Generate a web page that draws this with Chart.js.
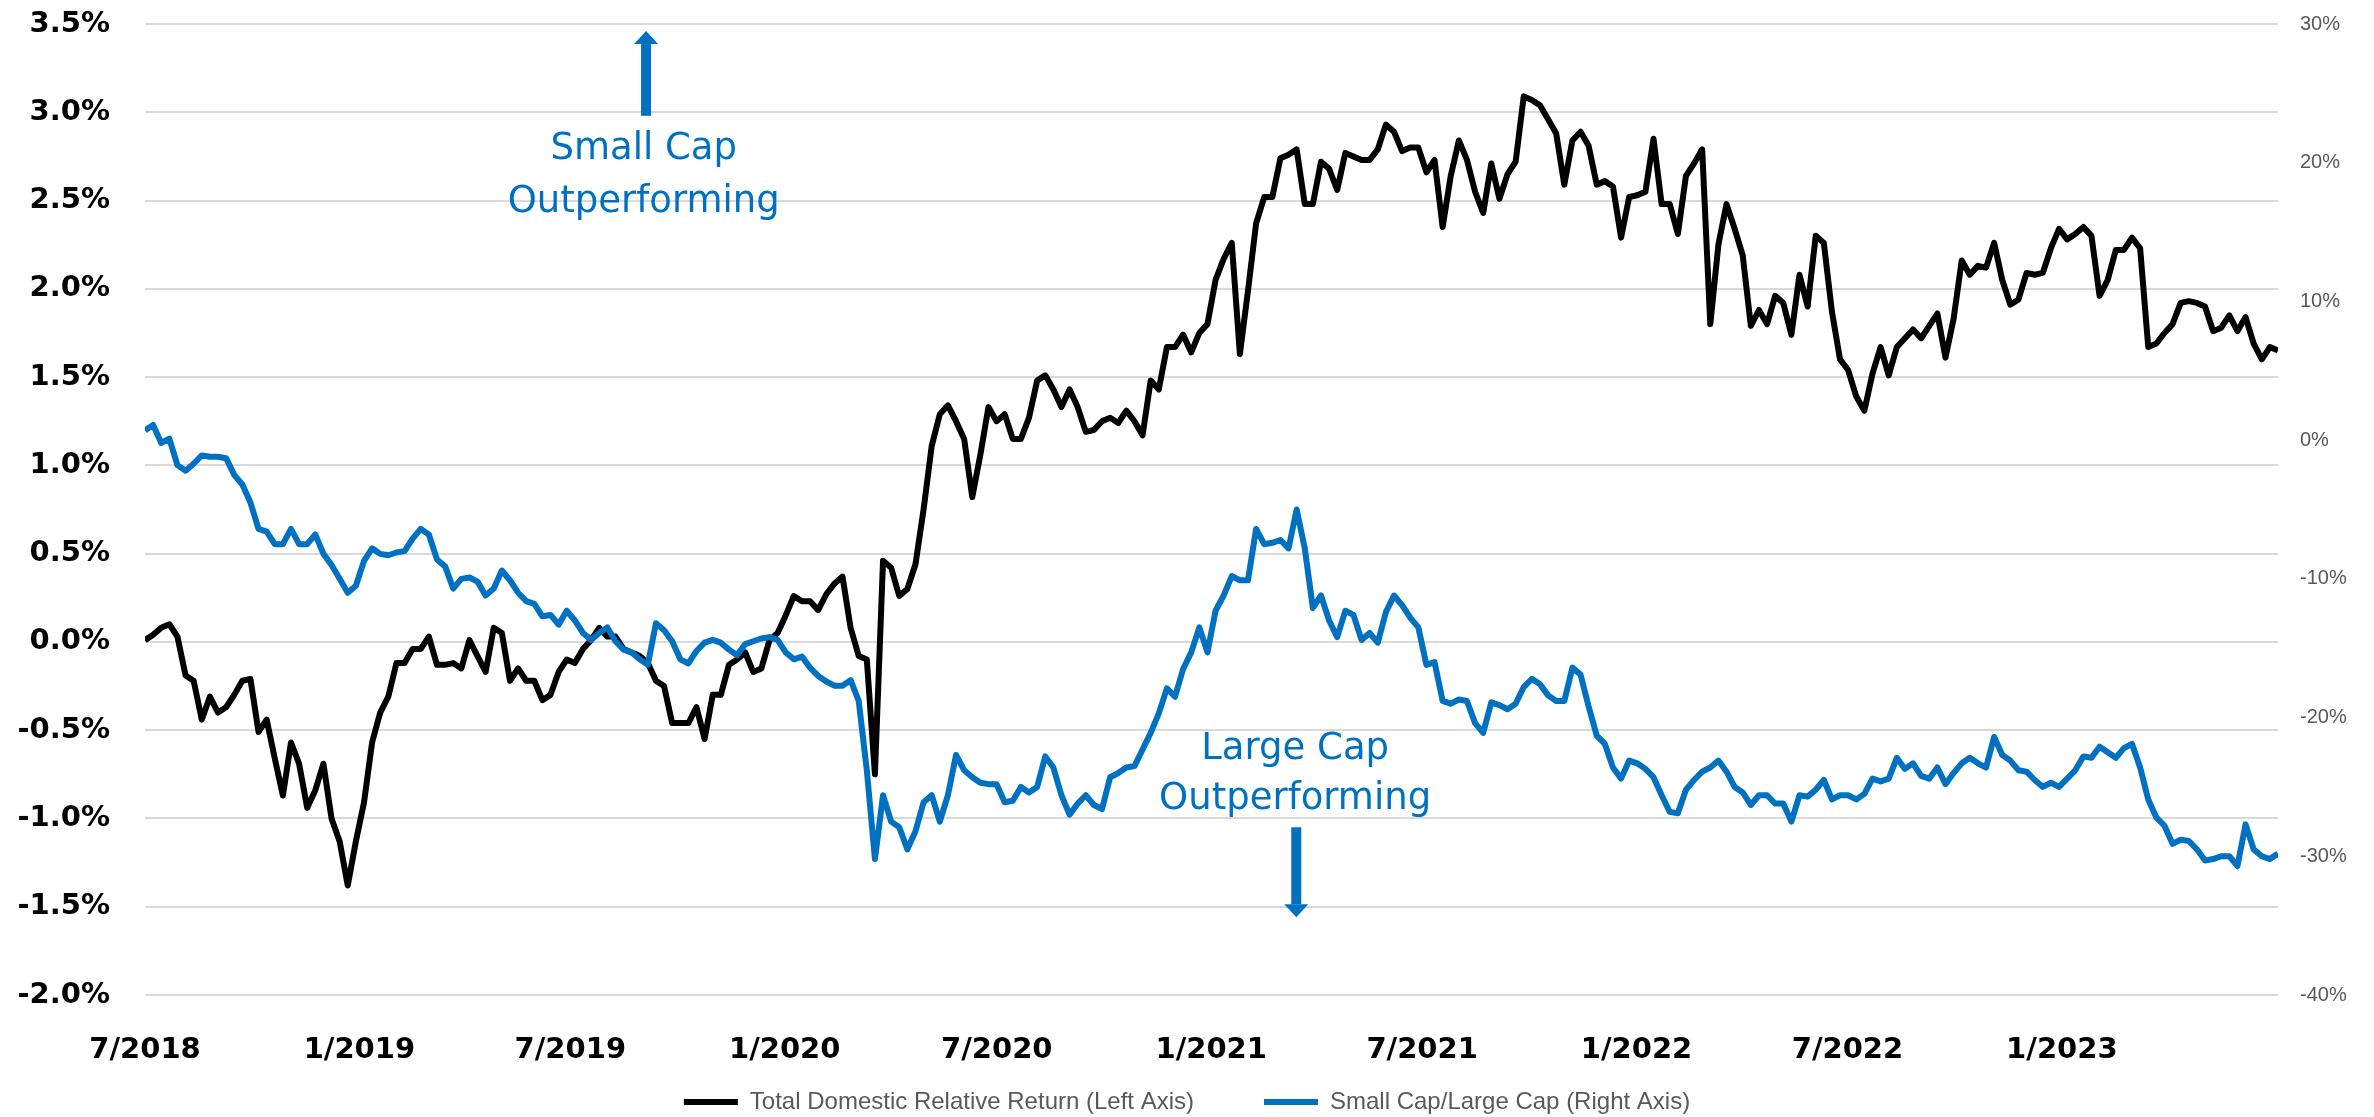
<!DOCTYPE html>
<html>
<head>
<meta charset="utf-8">
<script src="https://cdn.jsdelivr.net/npm/chart.js@4.4.1/dist/chart.umd.min.js"></script>
<style>
  html, body { margin: 0; padding: 0; background: #ffffff; }
</style>
</head>
<body>
<canvas id="chart" width="2374" height="1117"></canvas>
<script>
// weekly readings of both series, first point = 1 Jul 2018
const START_DATE = Date.UTC(2018, 6, 1);
const SAMPLE_DAYS = 6.96;

const seriesNames = ['Total Domestic Relative Return (Left Axis)', 'Small Cap/Large Cap (Right Axis)'];
const tickLabels = ['7/2018', '1/2019', '7/2019', '1/2020', '7/2020', '1/2021', '7/2021', '1/2022', '7/2022', '1/2023'];

// left axis, %
const domesticReturn = [
  0.01, 0.04, 0.08, 0.10, 0.03, -0.19, -0.22, -0.44, -0.31, -0.40, -0.37, -0.30, -0.22, -0.21, -0.51, -0.44, -0.66, -0.87,
  -0.57, -0.69, -0.94, -0.84, -0.69, -1.00, -1.13, -1.38, -1.13, -0.91, -0.57, -0.40, -0.31, -0.12, -0.12, -0.04, -0.04,
  0.03, -0.13, -0.13, -0.12, -0.15, 0.01, -0.08, -0.17, 0.08, 0.05, -0.22, -0.15, -0.22, -0.22, -0.33, -0.30, -0.17, -0.10,
  -0.12, -0.04, 0.01, 0.08, 0.03, 0.03, -0.04, -0.06, -0.08, -0.12, -0.22, -0.25, -0.46, -0.46, -0.46, -0.37, -0.55, -0.30,
  -0.30, -0.13, -0.10, -0.06, -0.17, -0.15, 0.01, 0.05, 0.15, 0.26, 0.23, 0.23, 0.18, 0.27, 0.33, 0.37, 0.08, -0.08, -0.10,
  -0.75, 0.46, 0.42, 0.26, 0.30, 0.44, 0.75, 1.11, 1.29, 1.34, 1.25, 1.15, 0.82, 1.06, 1.33, 1.25,
  1.29, 1.15, 1.15, 1.27, 1.48, 1.51, 1.43, 1.33, 1.43, 1.33, 1.19, 1.20, 1.25, 1.27, 1.24, 1.31, 1.25, 1.17, 1.48, 1.43,
  1.67, 1.67, 1.74, 1.64, 1.75, 1.80, 2.05, 2.17, 2.26, 1.63, 1.99, 2.37, 2.52, 2.52, 2.74, 2.76, 2.79, 2.48, 2.48, 2.72,
  2.68, 2.56, 2.77, 2.75, 2.73, 2.73, 2.79, 2.93, 2.89, 2.78, 2.80, 2.80, 2.66,
  2.73, 2.35, 2.64, 2.84, 2.73, 2.55, 2.43, 2.71, 2.51, 2.65, 2.72, 3.09, 3.07, 3.04, 2.96, 2.88, 2.59, 2.84, 2.89, 2.81,
  2.59, 2.61, 2.58, 2.29, 2.52, 2.53, 2.55, 2.85, 2.48, 2.48, 2.31, 2.64, 2.71, 2.79, 1.80, 2.25, 2.48, 2.34, 2.19, 1.79,
  1.88, 1.80, 1.96, 1.92, 1.74, 2.08, 1.90, 2.30, 2.26, 1.87, 1.60, 1.54, 1.39,
  1.31, 1.52, 1.67, 1.51, 1.67, 1.72, 1.77, 1.72, 1.79, 1.86, 1.61, 1.83, 2.16, 2.08, 2.13, 2.12, 2.26, 2.05, 1.91, 1.94,
  2.09, 2.08, 2.09, 2.23, 2.34, 2.28, 2.31, 2.35, 2.30, 1.96, 2.05, 2.22, 2.22, 2.29, 2.23, 1.67, 1.69, 1.75, 1.80, 1.92,
  1.93, 1.92, 1.90, 1.76, 1.78, 1.85, 1.76, 1.84, 1.69, 1.60, 1.67, 1.65
];

// right axis, %
const smallVsLarge = [
  0.7, 1.1, -0.2, 0.1, -1.8, -2.2, -1.7, -1.1, -1.2, -1.2, -1.3, -2.5, -3.2, -4.5, -6.4, -6.6, -7.5, -7.5, -6.4, -7.5,
  -7.5, -6.8, -8.2, -9.0, -10.0, -11.0, -10.5, -8.7, -7.8, -8.2, -8.3, -8.1, -8.0, -7.1, -6.4, -6.8, -8.6, -9.1, -10.7, -10.0,
  -9.9, -10.2, -11.2, -10.7, -9.4, -10.1, -11.0, -11.6, -11.8, -12.7, -12.6, -13.3, -12.3,
  -13.0, -13.9, -14.4, -13.9, -13.5, -14.5, -15.1, -15.3, -15.8, -16.2, -13.2, -13.7, -14.5, -15.8, -16.1, -15.2, -14.6, -14.4, -14.6, -15.1,
  -15.5, -14.7, -14.5, -14.3, -14.2, -14.4, -15.3, -15.8, -15.6, -16.4, -17.0, -17.4, -17.7, -17.7, -17.3, -18.8, -23.8, -30.2, -25.6, -27.5,
  -27.9, -29.5, -28.2, -26.1, -25.6, -27.5, -25.6, -22.7, -23.8, -24.3, -24.7, -24.8, -24.8,
  -26.1, -26.0, -25.0, -25.4, -25.0, -22.8, -23.6, -25.6, -27.0, -26.2, -25.6, -26.3, -26.6, -24.3, -24.0, -23.6, -23.5, -22.3, -21.1, -19.7,
  -17.9, -18.5, -16.5, -15.3, -13.5, -15.3, -12.3, -11.2, -9.8, -10.1, -10.1, -6.4, -7.5, -7.4, -7.2, -7.8, -5.0, -7.8, -12.1, -11.2,
  -13.0, -14.2, -12.3, -12.6, -14.4, -13.9, -14.6, -12.4, -11.2, -11.9, -12.8, -13.5, -16.2,
  -16.0, -18.8, -19.0, -18.7, -18.8, -20.4, -21.1, -18.9, -19.1, -19.4, -19.0, -17.8, -17.2, -17.6, -18.4, -18.8, -18.8, -16.4, -16.9, -19.2,
  -21.3, -21.9, -23.6, -24.4, -23.1, -23.3, -23.7, -24.3, -25.6, -26.8, -26.9, -25.2, -24.5, -23.9, -23.6, -23.1, -23.9, -25.0, -25.4, -26.3,
  -25.6, -25.6, -26.2, -26.2, -27.5, -25.6, -25.7, -25.2, -24.5, -25.9, -25.6, -25.6, -25.9,
  -25.5, -24.4, -24.6, -24.4, -22.9, -23.7, -23.3, -24.2, -24.4, -23.6, -24.8, -24.0, -23.3, -22.9, -23.3, -23.6, -21.4, -22.7, -23.1, -23.8,
  -23.9, -24.5, -25.0, -24.7, -25.0, -24.4, -23.8, -22.8, -22.9, -22.1, -22.5, -22.9, -22.2, -21.9, -23.6, -25.9, -27.2, -27.8, -29.1, -28.8,
  -28.9, -29.5, -30.3, -30.2, -30.0, -30.0, -30.7, -27.7, -29.5, -30.0, -30.2, -29.8
];

const calloutText = [['Small Cap', 'Outperforming'], ['Large Cap', 'Outperforming']];

const BLUE = '#0070C0';
const GRID = '#D9D9D9';
const TICK_FONT = { family: '"DejaVu Sans", sans-serif', size: 29, weight: 'bold' };

// days since start for each tick label, e.g. '1/2019'
const tickDays = tickLabels.map(lbl => {
    const [m, yr] = lbl.split('/').map(Number);
    return (Date.UTC(yr, m - 1, 1) - START_DATE) / 86400000;
});
const toPoints = arr => arr.map((v, i) => ({ x: i * SAMPLE_DAYS, y: v }));
const lastDay = (domesticReturn.length - 1) * SAMPLE_DAYS;

// arrows + captions, placed in axis units (x: days, y: left axis %)
const callouts = [
    { arrowX: 430, from: 2.98, to: 3.46, textX: 428, textY: [2.79, 2.49], lines: calloutText[0] },
    { arrowX: 988, from: -1.05, to: -1.56, textX: 987, textY: [-0.61, -0.89], lines: calloutText[1] }
];

const calloutPlugin = {
    id: 'callouts',
    afterDatasetsDraw(chart) {
        const { ctx, scales } = chart;
        const x = scales.x, y = scales.y;
        ctx.save();
        ctx.fillStyle = BLUE;
        callouts.forEach(c => {
            const ax = x.getPixelForValue(c.arrowX);
            const y0 = y.getPixelForValue(c.from);
            const tip = y.getPixelForValue(c.to);
            const dir = tip < y0 ? -1 : 1;
            const headLen = 13;
            const headBase = tip - dir * headLen;
            ctx.fillRect(ax - 5, Math.min(y0, headBase), 10, Math.abs(headBase - y0));
            ctx.beginPath();
            ctx.moveTo(ax - 12, headBase);
            ctx.lineTo(ax + 12, headBase);
            ctx.lineTo(ax, tip);
            ctx.closePath();
            ctx.fill();

            ctx.font = '37px "DejaVu Sans", sans-serif';
            ctx.textAlign = 'center';
            ctx.textBaseline = 'middle';
            const tx = x.getPixelForValue(c.textX);
            c.lines.forEach((t, i) => ctx.fillText(t, tx, y.getPixelForValue(c.textY[i])));
        });
        ctx.restore();
    }
};

// y axes: fixed width, and no extra head/foot room for the end labels
const fitY = w => s => { s.width = w; s.paddingTop = 0; s.paddingBottom = 0; };

new Chart(document.getElementById('chart'), {
    type: 'line',
    data: {
        datasets: [{
            label: seriesNames[0],
            data: toPoints(domesticReturn),
            yAxisID: 'y',
            borderColor: '#000000',
            backgroundColor: '#000000',
            borderWidth: 6,
            pointRadius: 0,
            tension: 0,
            borderJoinStyle: 'round',
            order: 2
        }, {
            label: seriesNames[1],
            data: toPoints(smallVsLarge),
            yAxisID: 'y1',
            borderColor: BLUE,
            backgroundColor: BLUE,
            borderWidth: 6,
            pointRadius: 0,
            tension: 0,
            borderJoinStyle: 'round',
            order: 1
        }]
    },
    options: {
        responsive: false,
        devicePixelRatio: 1,
        animation: false,
        layout: { padding: { top: 24, left: 0, right: 0, bottom: -7 } },
        plugins: {
            tooltip: { enabled: false },
            legend: {
                position: 'bottom',
                labels: {
                    usePointStyle: true,
                    pointStyle: 'line',
                    pointStyleWidth: 54,
                    padding: 22,
                    color: '#595959',
                    font: { family: '"Liberation Sans", sans-serif', size: 24 },
                    generateLabels: chart => {
                        const items = Chart.defaults.plugins.legend.labels.generateLabels(chart);
                        items.sort((a, b) => a.datasetIndex - b.datasetIndex);
                        items[0].text += '\u2003\u2003';
                        return items;
                    }
                }
            }
        },
        scales: {
            x: {
                type: 'linear',
                min: 0,
                max: lastDay,
                grid: { display: false },
                border: { display: false },
                afterBuildTicks: s => { s.ticks = tickDays.map(v => ({ value: v })); },
                afterFit: s => { s.height = 73; },
                ticks: {
                    autoSkip: false,
                    maxRotation: 0,
                    padding: 30,
                    color: '#000000',
                    font: TICK_FONT,
                    callback: (v, i) => tickLabels[i]
                }
            },
            y: {
                position: 'left',
                min: -2,
                max: 3.5,
                grid: { color: GRID, lineWidth: 2, drawTicks: false },
                border: { display: false },
                afterFit: fitY(145),
                ticks: {
                    stepSize: 0.5,
                    padding: 35,
                    color: '#000000',
                    font: TICK_FONT,
                    callback: v => v.toFixed(1) + '%'
                }
            },
            y1: {
                position: 'right',
                min: -40,
                max: 30,
                grid: { display: false, drawTicks: false },
                border: { display: false },
                afterFit: fitY(96),
                ticks: {
                    stepSize: 10,
                    padding: 22,
                    color: '#595959',
                    font: { family: '"Liberation Sans", sans-serif', size: 20 },
                    callback: v => v + '%'
                }
            }
        }
    },
    plugins: [calloutPlugin]
});
</script>
</body>
</html>
